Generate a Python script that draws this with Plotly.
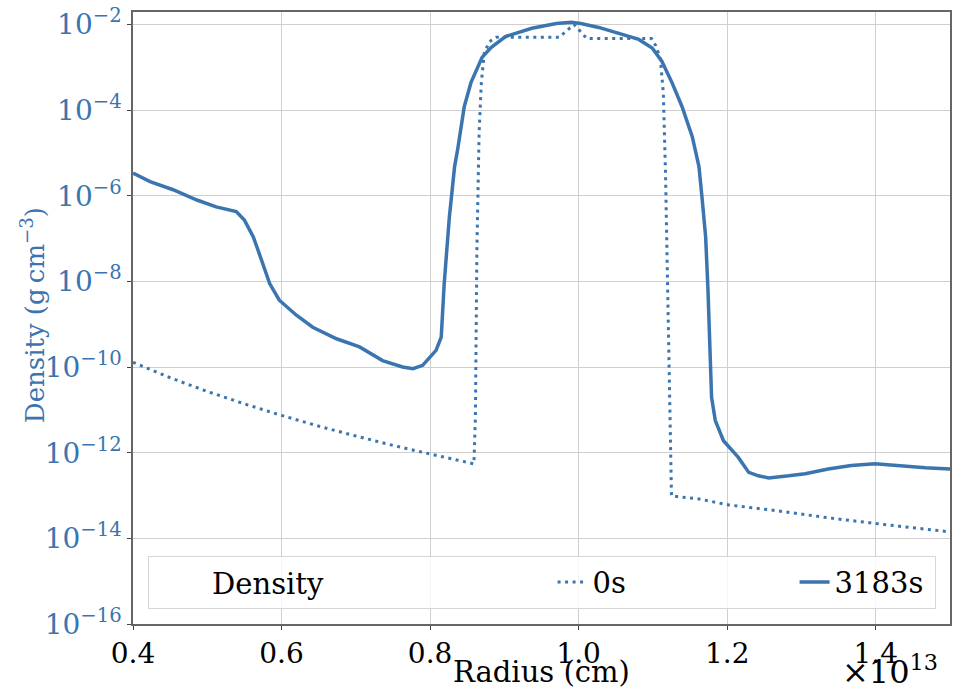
import plotly.graph_objects as go

# Radius in units of 1e13 cm
r_0s = [0.400, 0.450, 0.500, 0.550, 0.600, 0.650, 0.700, 0.750, 0.800, 0.859,
        0.861, 0.862, 0.863, 0.866, 0.869, 0.873, 0.880, 0.889, 0.974,
        0.983, 0.994, 1.000, 1.011, 1.098, 1.104, 1.110, 1.114, 1.117,
        1.120, 1.123, 1.125, 1.162, 1.202, 1.269, 1.336, 1.403, 1.500]
# log10 density (g cm^-3) at t = 0 s
log_rho_0s = [-9.89, -10.25, -10.57, -10.86, -11.13, -11.38, -11.61, -11.83, -12.03, -12.26,
              -11.18, -9.61, -7.27, -4.53, -3.36, -2.66, -2.40, -2.30, -2.30,
              -2.16, -2.00, -2.12, -2.33, -2.33, -2.50, -2.80, -3.60, -5.50,
              -8.60, -11.60, -13.01, -13.08, -13.22, -13.36, -13.52, -13.66, -13.85]

r_3183s = [0.400, 0.423, 0.454, 0.486, 0.512, 0.539, 0.550, 0.562, 0.573, 0.584,
           0.597, 0.620, 0.642, 0.674, 0.705, 0.736, 0.763, 0.777, 0.790, 0.808,
           0.815, 0.819, 0.826, 0.833, 0.837, 0.846, 0.855, 0.870, 0.882, 0.902,
           0.937, 0.970, 0.990, 1.003, 1.027, 1.050, 1.072, 1.081, 1.099, 1.112,
           1.126, 1.139, 1.153, 1.162, 1.166, 1.171, 1.174, 1.176, 1.179, 1.184,
           1.195, 1.215, 1.229, 1.242, 1.256, 1.283, 1.305, 1.336, 1.367, 1.399,
           1.426, 1.467, 1.500]
# log10 density (g cm^-3) at t = 3183 s
log_rho_3183s = [-5.47, -5.67, -5.86, -6.10, -6.26, -6.37, -6.57, -6.96, -7.50, -8.05,
                 -8.44, -8.79, -9.07, -9.34, -9.53, -9.85, -10.00, -10.04, -9.96, -9.61,
                 -9.30, -8.05, -6.49, -5.32, -4.93, -3.92, -3.36, -2.77, -2.54, -2.28,
                 -2.09, -1.98, -1.95, -1.98, -2.07, -2.19, -2.30, -2.35, -2.55, -2.86,
                 -3.37, -3.91, -4.62, -5.32, -6.02, -6.96, -8.13, -9.30, -10.71, -11.25,
                 -11.72, -12.11, -12.46, -12.54, -12.59, -12.54, -12.49, -12.38, -12.30, -12.26,
                 -12.30, -12.35, -12.38]

y_exponents = [-16, -14, -12, -10, -8, -6, -4, -2]
x_ticks = [0.4, 0.6, 0.8, 1.0, 1.2, 1.4]

rho_0s = [10 ** v for v in log_rho_0s]
rho_3183s = [10 ** v for v in log_rho_3183s]

BLUE = "#3b75af"
SERIF = "DejaVu Serif"

fig = go.Figure()
fig.add_trace(go.Scatter(x=r_0s, y=rho_0s, mode="lines", name="0s",
                         line=dict(color=BLUE, width=3, dash="3px,4.5px"),
                         legendwidth=197))
fig.add_trace(go.Scatter(x=r_3183s, y=rho_3183s, mode="lines", name="3183s",
                         line=dict(color=BLUE, width=3.5),
                         legendwidth=95))

fig.update_layout(
    width=953, height=692,
    margin=dict(l=133, r=1, t=12, b=68),
    plot_bgcolor="white", paper_bgcolor="white",
    showlegend=True,
    legend=dict(
        orientation="h", x=0.0183, y=0.0249, xanchor="left", yanchor="bottom",
        bgcolor="rgba(255,255,255,0.8)", bordercolor="#d6d6d6", borderwidth=1,
        font=dict(family=SERIF, size=29, color="black"),
        title=dict(text="\u00a0" * 6 + "\u2009" + "Density" + "\u00a0" * 24, side="left",
                   font=dict(family=SERIF, size=29, color="black")),
    ),
    xaxis=dict(
        range=[0.4, 1.5], tickvals=x_ticks, tickformat=".1f",
        showgrid=True, gridcolor="#cfcfcf", gridwidth=1,
        showline=True, linecolor="#666666", linewidth=1.5, mirror=True,
        ticks="outside", ticklen=4, tickcolor="#444",
        tickfont=dict(family=SERIF, size=28, color="black"),
        zeroline=False,
    ),
    yaxis=dict(
        type="log", range=[-16, -1.71],
        tickvals=[10.0 ** e for e in y_exponents],
        ticktext=["10<sup>\u2212%d</sup>" % (-e) for e in y_exponents],
        showgrid=True, gridcolor="#cfcfcf", gridwidth=1,
        showline=True, linecolor="#666666", linewidth=1.5, mirror=True,
        ticks="outside", ticklen=4, tickcolor="#444",
        tickfont=dict(family=SERIF, size=28, color=BLUE),
        zeroline=False,
    ),
    annotations=[
        dict(text="Radius (cm)", xref="paper", yref="paper", x=0.5, y=0,
             xanchor="center", yanchor="middle", yshift=-48, showarrow=False,
             font=dict(family=SERIF, size=29, color="black")),
        dict(text="Density (g\u2009cm<sup>\u22123</sup>)", xref="paper", yref="paper",
             x=-0.1221, y=0.505, xanchor="center", yanchor="middle", textangle=-90,
             showarrow=False, font=dict(family=SERIF, size=26, color=BLUE)),
        dict(text="\u00d710<sup>13</sup>", xref="paper", yref="paper", x=1.0, y=0,
             xanchor="right", yanchor="bottom", xshift=-10, yshift=-69, showarrow=False,
             font=dict(family=SERIF, size=32, color="black")),
    ],
)

fig.write_html("out.html")
